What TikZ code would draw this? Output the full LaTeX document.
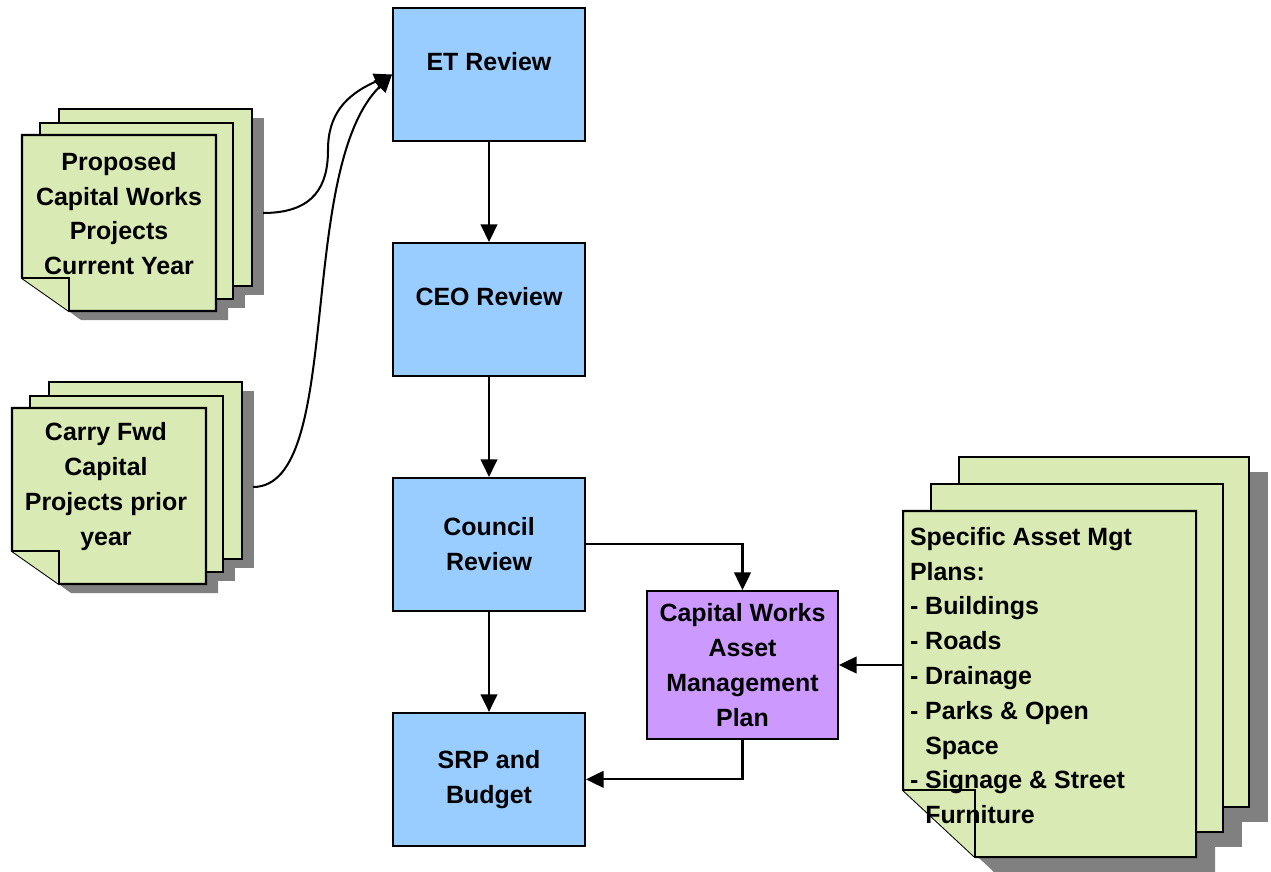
\documentclass[tikz,border=0pt]{standalone}
\usepackage{fontspec}
\setmainfont{Liberation Sans}
\usetikzlibrary{shapes,arrows,arrows.meta,positioning,calc}

\definecolor{reviewblue}{RGB}{153,204,255}
\definecolor{planpurple}{RGB}{204,153,255}
\definecolor{docgreen}{RGB}{217,234,180}
\definecolor{docgrey}{RGB}{128,128,128}

\begin{document}
\begin{tikzpicture}[x=0.02cm, y=-0.02cm, node distance=4.7cm, line width=1.15pt,
    >={Triangle[length=10pt,width=9.5pt]},
    font=\fontsize{14.2}{19.8}\selectfont\bfseries,
    review/.style={draw, rectangle, fill=reviewblue, minimum width=3.84cm, minimum height=2.66cm, align=center},
    onetext/.style={text depth=0.52cm},
    sheet/.style={draw, fill=docgreen},
    docshadow/.style={fill=docgrey}]
    \useasboundingbox (0,0) rectangle (1271,872);

    % small document stacks
    \foreach \px/\py in {22/135, 12/408} {
        \begin{scope}[shift={(\px,\py)}]
            \fill [docshadow] (49,-17) rectangle (242,160);
            \fill [docshadow] (30,-3) rectangle (223,173);
            \fill [docshadow] (12,9) -- (206,9) -- (206,185) -- (59,185) -- (12,152) -- cycle;
            \draw [sheet] (37,-26) rectangle (230,151);
            \draw [sheet] (18,-12) rectangle (211,164);
            \fill [white] (-1,143) -- (47,176) -- (59,187) -- (-1,187) -- cycle;
            \draw [sheet] (0,0) -- (194,0) -- (194,176) -- (47,176) -- (0,143) -- cycle;
            \draw [sheet] (0,143) -- (47,143) -- (47,176);
        \end{scope}
    }
    \node (prop) [align=center] at (119,213.5) {Proposed\\Capital Works\\Projects\\Current Year};
    \node (carry) [align=center] at (106,486.5) {Carry Fwd\\Capital\\Projects prior\\year};
    \coordinate (propout) at (263,213);
    \coordinate (carryout) at (253,487);

    % asset plans stack
    \begin{scope}[shift={(903,511)}]
        \fill [docshadow] (75,-39) rectangle (365,311);
        \fill [docshadow] (47,-12) rectangle (339,336);
        \fill [docshadow] (19,15) -- (312,15) -- (312,361) -- (91,361) -- (19,294) -- cycle;
        \draw [sheet] (56,-54) rectangle (346,296);
        \draw [sheet] (28,-27) rectangle (320,321);
        \fill [white] (-1,279) -- (72,346) -- (91,362) -- (-1,362) -- cycle;
        \draw [sheet] (0,0) -- (293,0) -- (293,346) -- (72,346) -- (0,279) -- cycle;
        \draw [sheet] (0,279) -- (72,279) -- (72,346);
    \end{scope}
    \node (amp) [anchor=west, align=left, inner sep=0pt] at (909,675.5) {Specific Asset Mgt\\Plans:\\- Buildings\\- Roads\\- Drainage\\- Parks \& Open\\\hphantom{- }Space\\- Signage \& Street\\\hphantom{- }Furniture};
    \coordinate (ampin) at (903,665);

    % review chain
    \node (et) [review, onetext] at (489,74.5) {ET Review};
    \node (ceo) [review, onetext, below of=et] {CEO Review};
    \node (council) [review, below of=ceo] {Council\\Review};
    \node (srp) [review, below of=council] {SRP and\\Budget};
    \node (cwamp) [draw, rectangle, fill=planpurple, minimum width=3.82cm, minimum height=2.96cm, align=center] at (742.5,665) {Capital Works\\Asset\\Management\\Plan};

    \draw [->] (et) -- (ceo);
    \draw [->] (ceo) -- (council);
    \draw [->] (council) -- (srp);
    \draw [->] (council.east) -| (cwamp.north);
    \draw [->] (cwamp.south) |- (srp.east);
    \draw [->] (ampin) -- (cwamp.east);
    \draw [->] (propout) .. controls (315,213) and (328,185) .. (328,150) .. controls (328,115) and (345,95) .. (et.west);
    \draw [->] (carryout) .. controls (345,487) and (295,170) .. (et.west);
\end{tikzpicture}
\end{document}
